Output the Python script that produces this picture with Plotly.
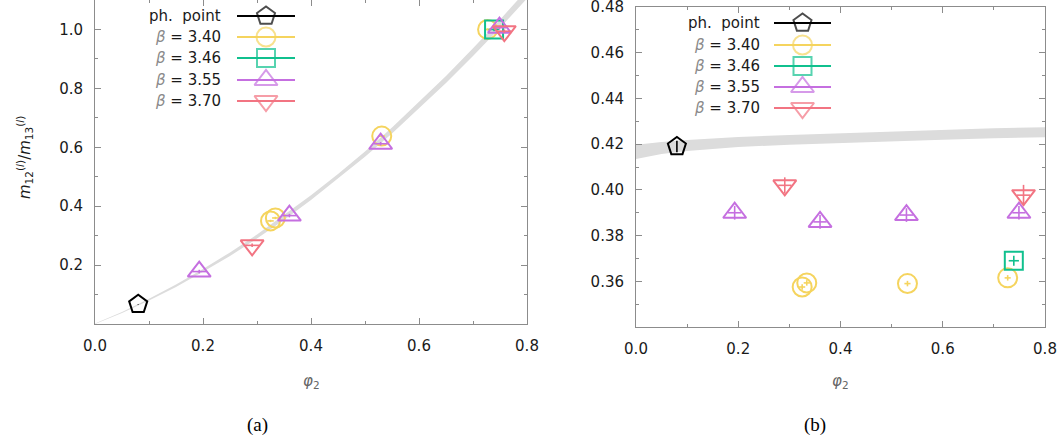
import plotly.graph_objects as go

# ---------------- data ----------------
# physical point
phys_x = [0.080]
phys_left_y = [0.067]
phys_right_y = [0.419]
phys_right_yerr = [0.0025]

# beta = 3.40
b340_x = [0.325, 0.334, 0.531, 0.727]
b340_xerr = [0.006, 0.006, 0.006, 0.006]
b340_left_y = [0.350, 0.360, 0.638, 1.000]
b340_right_y = [0.3575, 0.3593, 0.3590, 0.3615]
b340_right_yerr = [0.0012, 0.0012, 0.0012, 0.0012]

# beta = 3.46
b346_x = [0.739]
b346_xerr = [0.010]
b346_left_y = [1.000]
b346_right_y = [0.369]
b346_right_yerr = [0.0022]

# beta = 3.55
b355_x = [0.193, 0.360, 0.529, 0.749]
b355_xerr = [0.013, 0.013, 0.013, 0.013]
b355_left_y = [0.178, 0.368, 0.612, 1.006]
b355_right_y = [0.390, 0.386, 0.389, 0.390]
b355_right_yerr = [0.003, 0.003, 0.003, 0.003]

# beta = 3.70
b370_x = [0.291, 0.758]
b370_xerr = [0.013, 0.013]
b370_left_y = [0.267, 0.994]
b370_right_y = [0.402, 0.3977]
b370_right_yerr = [0.0035, 0.0045]

# grey bands
bandL_x = [0.00, 0.05, 0.10, 0.15, 0.20, 0.25, 0.30, 0.35, 0.40, 0.45, 0.50, 0.55, 0.60, 0.65, 0.70, 0.75, 0.80]
bandL_lo = [0.000, 0.037, 0.080, 0.126, 0.177, 0.231, 0.290, 0.353, 0.421, 0.493, 0.568, 0.647, 0.731, 0.818, 0.910, 1.005, 1.105]
bandL_hi = [0.002, 0.041, 0.086, 0.134, 0.187, 0.243, 0.304, 0.369, 0.437, 0.509, 0.586, 0.667, 0.753, 0.842, 0.936, 1.033, 1.135]

bandR_x = [0.00, 0.05, 0.10, 0.15, 0.20, 0.30, 0.40, 0.50, 0.60, 0.70, 0.80]
bandR_lo = [0.4135, 0.4157, 0.4170, 0.4180, 0.4188, 0.4198, 0.4206, 0.4214, 0.4220, 0.4226, 0.4230]
bandR_hi = [0.4198, 0.4210, 0.4218, 0.4226, 0.4232, 0.4240, 0.4247, 0.4256, 0.4264, 0.4270, 0.4274]

# legend
legend_labels = ["ph.&nbsp;&nbsp;point",
                 "<span style='color:#8a8a8a'><i>β</i></span> = 3.40",
                 "<span style='color:#8a8a8a'><i>β</i></span> = 3.46",
                 "<span style='color:#8a8a8a'><i>β</i></span> = 3.55",
                 "<span style='color:#8a8a8a'><i>β</i></span> = 3.70"]

# ---------------- styles ----------------
W, H = 1063, 446
C_PH = "#000000"
C_340 = "#f5d45e"
C_346 = "#10c08e"
C_355 = "#c56fe0"
C_370 = "#f27482"
AX = "#8c8c8c"
FONT = "DejaVu Sans"

series_style = [
    ("pentagon-open", C_PH, 19),
    ("circle-open", C_340, 19),
    ("square-open", C_346, 18),
    ("triangle-up-open", C_355, 20),
    ("triangle-down-open", C_370, 20),
]

fig = go.Figure()


def add_band(x, lo, hi, xa, ya):
    fig.add_trace(go.Scatter(x=x, y=lo, mode="lines", line=dict(width=0, color="#dcdcdc"),
                             xaxis=xa, yaxis=ya, showlegend=False, hoverinfo="skip"))
    fig.add_trace(go.Scatter(x=x, y=hi, mode="lines", line=dict(width=0, color="#dcdcdc"),
                             fill="tonexty", fillcolor="#dcdcdc",
                             xaxis=xa, yaxis=ya, showlegend=False, hoverinfo="skip"))


def add_pts(x, y, sty, xa, ya, xerr=None, yerr=None):
    sym, col, size = sty
    kw = {}
    if xerr is not None:
        kw["error_x"] = dict(type="data", array=xerr, color=col, thickness=1.6, width=0)
    if yerr is not None:
        kw["error_y"] = dict(type="data", array=yerr, color=col, thickness=1.6, width=0)
    fig.add_trace(go.Scatter(x=x, y=y, mode="markers",
                             marker=dict(symbol=sym, size=size, color=col, line=dict(width=2, color=col)),
                             xaxis=xa, yaxis=ya, showlegend=False, **kw))


# left panel
add_band(bandL_x, bandL_lo, bandL_hi, "x", "y")
add_pts(phys_x, phys_left_y, series_style[0], "x", "y", xerr=[0.0], yerr=[0.001])
add_pts(b340_x, b340_left_y, series_style[1], "x", "y", xerr=b340_xerr, yerr=[0.004] * 4)
add_pts(b346_x, b346_left_y, series_style[2], "x", "y", xerr=b346_xerr, yerr=[0.006])
add_pts(b355_x, b355_left_y, series_style[3], "x", "y", xerr=b355_xerr, yerr=[0.006] * 4)
add_pts(b370_x, b370_left_y, series_style[4], "x", "y", xerr=b370_xerr, yerr=[0.006] * 2)

# right panel
add_band(bandR_x, bandR_lo, bandR_hi, "x2", "y2")
add_pts(phys_x, phys_right_y, series_style[0], "x2", "y2", yerr=phys_right_yerr)
add_pts(b340_x, b340_right_y, series_style[1], "x2", "y2", xerr=b340_xerr, yerr=b340_right_yerr)
add_pts(b346_x, b346_right_y, series_style[2], "x2", "y2", xerr=b346_xerr, yerr=b346_right_yerr)
add_pts(b355_x, b355_right_y, series_style[3], "x2", "y2", xerr=b355_xerr, yerr=b355_right_yerr)
add_pts(b370_x, b370_right_y, series_style[4], "x2", "y2", xerr=b370_xerr, yerr=b370_right_yerr)

# custom gnuplot-like legends on an overlay pixel axis
legend_boxes = [
    dict(text_right=223, line0=237, line1=295, rows=[16, 37, 58, 80, 101]),
    dict(text_right=762, line0=774, line1=831, rows=[23, 45, 66, 87, 108]),
]
annotations = []
for box in legend_boxes:
    mid = (box["line0"] + box["line1"]) / 2
    for lab, sty, ry in zip(legend_labels, series_style, box["rows"]):
        sym, col, size = sty
        fig.add_trace(go.Scatter(x=[box["line0"], mid, box["line1"]], y=[ry, ry, ry],
                                 mode="lines+markers",
                                 line=dict(color=col, width=2.2),
                                 marker=dict(symbol=sym, size=[0, size, 0], color=col,
                                             line=dict(width=2, color=col)),
                                 xaxis="x3", yaxis="y3", showlegend=False, hoverinfo="skip"))
        annotations.append(dict(x=box["text_right"] / W, y=1 - ry / H, xref="paper", yref="paper",
                                text=lab, showarrow=False, xanchor="right", yanchor="middle",
                                font=dict(family=FONT, size=15, color="#1a1a1a")))

# axis titles and captions
centered = dict(xref="paper", yref="paper", showarrow=False, xanchor="center", yanchor="middle")
annotations += [
    dict(x=311 / W, y=1 - 381 / H, text="<i>φ</i><sub>2</sub>",
         font=dict(family=FONT, size=15, color="#666666"), **centered),
    dict(x=840 / W, y=1 - 381 / H, text="<i>φ</i><sub>2</sub>",
         font=dict(family=FONT, size=15, color="#666666"), **centered),
    dict(x=24 / W, y=1 - 158 / H, textangle=-90,
         text="<i>m</i><sub>12</sub><sup>(<i>l</i>)</sup>/<i>m</i><sub>13</sub><sup>(<i>l</i>)</sup>",
         font=dict(family=FONT, size=15, color="#1a1a1a"), **centered),
    dict(x=257 / W, y=1 - 425 / H, text="(a)",
         font=dict(family="Liberation Serif", size=19, color="#000000"), **centered),
    dict(x=815 / W, y=1 - 425 / H, text="(b)",
         font=dict(family="Liberation Serif", size=19, color="#000000"), **centered),
]

common_ax = dict(showgrid=False, zeroline=False, showline=True, linecolor=AX, linewidth=1,
                 mirror="ticks", ticks="inside", ticklen=6, tickcolor=AX, tickwidth=1,
                 automargin=False, ticklabeloverflow="allow",
                 tickfont=dict(family=FONT, size=15, color="#1a1a1a"))

fig.update_layout(
    template="none",
    width=W, height=H,
    margin=dict(l=0, r=0, t=0, b=0, pad=0),
    paper_bgcolor="white", plot_bgcolor="rgba(0,0,0,0)",
    showlegend=False,
    annotations=annotations,
    xaxis=dict(domain=[95 / W, 527 / W], range=[0, 0.8], anchor="y",
               tickvals=[0, 0.2, 0.4, 0.6, 0.8], ticktext=["0.0", "0.2", "0.4", "0.6", "0.8"],
               minor=dict(tickvals=[0.1, 0.3, 0.5, 0.7], ticks="inside", ticklen=3, tickcolor=AX),
               ticklabelstandoff=8, **common_ax),
    yaxis=dict(domain=[1 - 324 / H, 1.0], range=[0, 1.1], anchor="x",
               tickvals=[0.2, 0.4, 0.6, 0.8, 1.0], ticktext=["0.2", "0.4", "0.6", "0.8", "1.0"],
               minor=dict(tickvals=[0.1, 0.3, 0.5, 0.7, 0.9, 1.1], ticks="inside", ticklen=3, tickcolor=AX),
               ticklabelstandoff=8, **common_ax),
    xaxis2=dict(domain=[636 / W, 1045 / W], range=[0, 0.8], anchor="y2",
                tickvals=[0, 0.2, 0.4, 0.6, 0.8], ticktext=["0.0", "0.2", "0.4", "0.6", "0.8"],
                minor=dict(tickvals=[0.1, 0.3, 0.5, 0.7], ticks="inside", ticklen=3, tickcolor=AX),
                ticklabelstandoff=8, **common_ax),
    yaxis2=dict(domain=[1 - 327 / H, 1 - 7 / H], range=[0.34, 0.48005], anchor="x2",
                tickvals=[0.36, 0.38, 0.40, 0.42, 0.44, 0.46, 0.48],
                ticktext=["0.36", "0.38", "0.40", "0.42", "0.44", "0.46", "0.48"],
                minor=dict(tickvals=[0.35, 0.37, 0.39, 0.41, 0.43, 0.45, 0.47], ticks="inside",
                           ticklen=3, tickcolor=AX),
                ticklabelstandoff=8, **common_ax),
    xaxis3=dict(domain=[0, 1], range=[0, W], anchor="y3", visible=False, fixedrange=True),
    yaxis3=dict(domain=[0, 1], range=[H, 0], anchor="x3", visible=False, fixedrange=True),
)

fig.write_html("out.html", config={"displayModeBar": False},
               post_script="document.body.style.margin='0';document.body.style.overflow='hidden';")
